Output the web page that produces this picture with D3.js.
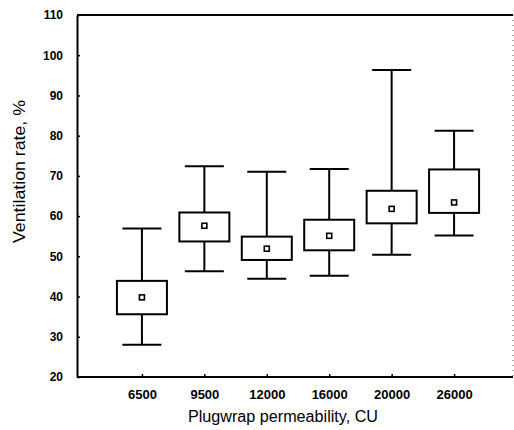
<!DOCTYPE html>
<html>
<head>
<meta charset="utf-8">
<script src="https://cdn.jsdelivr.net/npm/d3@7"></script>
<style>
  body { margin: 0; background: #fff; }
  svg { display: block; font-family: Arial, "Liberation Sans", sans-serif; }
</style>
</head>
<body>
<div id="chart"></div>
<script>
// Plugwrap permeability groups
const categories = ["6500", "9500", "12000", "16000", "20000", "26000"];
// Box plot values per group (ventilation rate, %)
const whiskerLow = [28, 46.3, 44.4, 45.2, 50.4, 55.2];
const boxLow = [35.6, 53.7, 49.1, 51.5, 58.2, 60.8];
const means = [39.8, 57.6, 51.9, 55.1, 61.8, 63.4];
const boxHigh = [43.9, 60.9, 54.9, 59.1, 66.3, 71.6];
const whiskerHigh = [56.9, 72.4, 71.0, 71.7, 96.3, 81.2];
const yTicks = [20, 30, 40, 50, 60, 70, 80, 90, 100, 110];

const data = categories.map((c, i) => ({
    cat: c,
    wLo: whiskerLow[i], bLo: boxLow[i], mean: means[i],
    bHi: boxHigh[i], wHi: whiskerHigh[i]
}));

const W = 514, H = 430;
const plot = {left: 77, right: 513, top: 15, bottom: 377};

const svg = d3.select("#chart")
    .append("svg")
    .attr("width", W)
    .attr("height", H);

// Scales
const x = d3.scalePoint()
    .domain(categories)
    .range([79.5, 516.5])
    .padding(1);

const y = d3.scaleLinear()
    .domain([20, 110])
    .range([plot.bottom, plot.top]);

// Frame: right side is faint dotted
svg.append("line")
    .attr("x1", plot.right).attr("x2", plot.right)
    .attr("y1", plot.top).attr("y2", plot.bottom)
    .attr("stroke", "#777")
    .attr("stroke-width", 1.2)
    .attr("stroke-dasharray", "1,4");

svg.append("line")
    .attr("x1", plot.left).attr("x2", plot.right)
    .attr("y1", plot.top).attr("y2", plot.top)
    .attr("stroke", "#000")
    .attr("stroke-width", 2);

// Y axis
const yAxis = svg.append("g")
    .attr("transform", `translate(${plot.left},0)`)
    .call(d3.axisLeft(y).tickValues(yTicks).tickSizeInner(-3).tickSizeOuter(0).tickPadding(14));
yAxis.select(".domain").attr("stroke", "#000").attr("stroke-width", 2);
yAxis.selectAll(".tick line").attr("stroke", "#000").attr("stroke-width", 1.5);
yAxis.selectAll(".tick text")
    .attr("fill", "#000")
    .style("font-size", "12px")
    .style("font-weight", "bold");

// X axis
const xAxis = svg.append("g")
    .attr("transform", `translate(0,${plot.bottom})`)
    .call(d3.axisBottom(x).tickSizeInner(-3).tickSizeOuter(0).tickPadding(13));
xAxis.select(".domain")
    .attr("d", `M${plot.left},0H${plot.right}`)
    .attr("stroke", "#000").attr("stroke-width", 2);
xAxis.selectAll(".tick line").attr("stroke", "#000").attr("stroke-width", 1.5);
xAxis.selectAll(".tick text")
    .attr("fill", "#000")
    .style("font-size", "13px")
    .style("font-weight", "bold");

// Boxes
const boxW = 50, capW = 39;
const g = svg.append("g")
    .selectAll("g")
    .data(data)
    .join("g")
    .attr("transform", d => `translate(${x(d.cat)},0)`);

// upper whisker
g.append("line")
    .attr("x1", 0).attr("x2", 0)
    .attr("y1", d => y(d.bHi)).attr("y2", d => y(d.wHi))
    .attr("stroke", "#000").attr("stroke-width", 2);
// lower whisker
g.append("line")
    .attr("x1", 0).attr("x2", 0)
    .attr("y1", d => y(d.bLo)).attr("y2", d => y(d.wLo))
    .attr("stroke", "#000").attr("stroke-width", 2);
// caps
g.append("line")
    .attr("x1", -capW / 2).attr("x2", capW / 2)
    .attr("y1", d => y(d.wHi)).attr("y2", d => y(d.wHi))
    .attr("stroke", "#000").attr("stroke-width", 2);
g.append("line")
    .attr("x1", -capW / 2).attr("x2", capW / 2)
    .attr("y1", d => y(d.wLo)).attr("y2", d => y(d.wLo))
    .attr("stroke", "#000").attr("stroke-width", 2);
// box
g.append("rect")
    .attr("x", -boxW / 2)
    .attr("width", boxW)
    .attr("y", d => y(d.bHi))
    .attr("height", d => y(d.bLo) - y(d.bHi))
    .attr("fill", "#fff")
    .attr("stroke", "#000")
    .attr("stroke-width", 2);
// mean marker
g.append("rect")
    .attr("x", -2.5).attr("width", 5)
    .attr("y", d => y(d.mean) - 2.5).attr("height", 5)
    .attr("fill", "#fff")
    .attr("stroke", "#000")
    .attr("stroke-width", 1.6);

// Axis titles
svg.append("text")
    .attr("x", 283)
    .attr("y", 422)
    .attr("text-anchor", "middle")
    .attr("textLength", 190)
    .attr("lengthAdjust", "spacingAndGlyphs")
    .style("font-size", "16px")
    .text("Plugwrap permeability, CU");

svg.append("text")
    .attr("transform", "translate(25,171.5) rotate(-90)")
    .attr("text-anchor", "middle")
    .attr("textLength", 143)
    .attr("lengthAdjust", "spacingAndGlyphs")
    .style("font-size", "16px")
    .text("Ventilation rate, %");
</script>
</body>
</html>
